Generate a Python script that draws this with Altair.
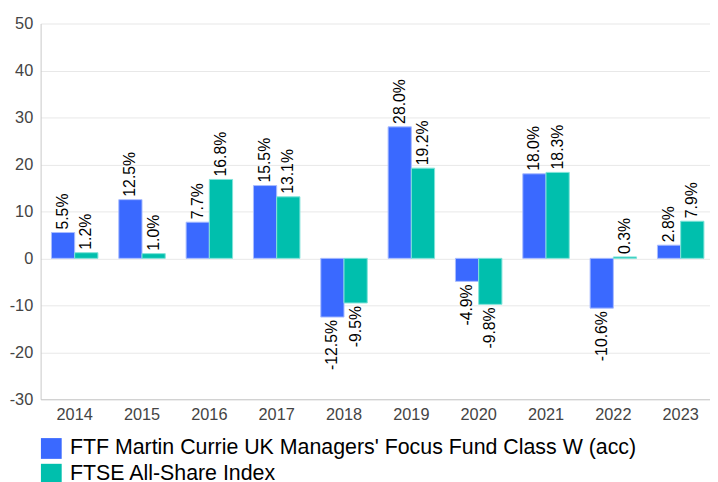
import altair as alt
import pandas as pd

years = ["2014", "2015", "2016", "2017", "2018", "2019", "2020", "2021", "2022", "2023"]
series_names = ["FTF Martin Currie UK Managers' Focus Fund Class W (acc)", "FTSE All-Share Index"]
fund = [5.5, 12.5, 7.7, 15.5, -12.5, 28.0, -4.9, 18.0, -10.6, 2.8]
index = [1.2, 1.0, 16.8, 13.1, -9.5, 19.2, -9.8, 18.3, 0.3, 7.9]
y_ticks = [-30, -20, -10, 0, 10, 20, 30, 40, 50]
colors = ["#3a69ff", "#00bfad"]
stroke_colors = ["#a9bcff", "#7fe3d9"]

rows = []
for i, y in enumerate(years):
    rows.append({"year": y, "series": series_names[0], "value": fund[i], "label": f"{fund[i]:.1f}%"})
    rows.append({"year": y, "series": series_names[1], "value": index[i], "label": f"{index[i]:.1f}%"})
df = pd.DataFrame(rows)

x_enc = alt.X(
    "year:N",
    sort=years,
    scale=alt.Scale(paddingInner=0.31, paddingOuter=0.1256, align=0.64),
    axis=alt.Axis(
        title=None, labelAngle=0, labelFontSize=16.5, labelColor="#444444",
        labelFont="Liberation Sans", ticks=False, domainColor="#c8c8c8",
        labelPadding=7, grid=False,
    ),
)
xoff = alt.XOffset("series:N", sort=series_names, scale=alt.Scale(paddingInner=0.0))
y_enc = alt.Y(
    "value:Q",
    scale=alt.Scale(domain=[-30, 50], nice=False),
    axis=alt.Axis(
        title=None, values=y_ticks, labelFontSize=16.5, labelColor="#444444",
        labelFont="Liberation Sans", ticks=False, domainColor="#c8c8c8",
        gridColor="#e8e8e8", labelPadding=8, labelExpr="'' + datum.value",
    ),
)

base = alt.Chart(df).encode(x=x_enc, xOffset=xoff, y=y_enc)

bars = base.mark_bar(strokeWidth=1).encode(
    color=alt.Color(
        "series:N",
        sort=series_names,
        scale=alt.Scale(domain=series_names, range=colors),
        legend=alt.Legend(
            title=None, orient="none", legendX=0, legendY=419,
            symbolType="square", symbolSize=441, symbolStrokeWidth=0,
            labelFontSize=21.6, labelColor="#000000", labelFont="Liberation Sans",
            rowPadding=3, labelOffset=8, padding=0, labelLimit=700,
        ),
    ),
    stroke=alt.Stroke(
        "series:N",
        sort=series_names,
        scale=alt.Scale(domain=series_names, range=stroke_colors),
        legend=None,
    ),
)

text_common = dict(angle=270, baseline="middle", fontSize=16, font="Liberation Sans", color="#000000")

pos_labels = base.transform_filter("datum.value >= 0").mark_text(
    align="left", dx=3, **text_common
).encode(text="label:N")

neg_labels = base.transform_filter("datum.value < 0").mark_text(
    align="right", dx=-3, **text_common
).encode(text="label:N")

chart = alt.layer(bars, pos_labels, neg_labels).properties(
    width=677,
    height=380,
    autosize=alt.AutoSizeParams(type="none"),
    padding={"left": 33, "top": 13, "right": 0, "bottom": 81},
).configure_view(stroke=None)

chart.save("out.html", embed_options={"renderer": "svg", "actions": False})
